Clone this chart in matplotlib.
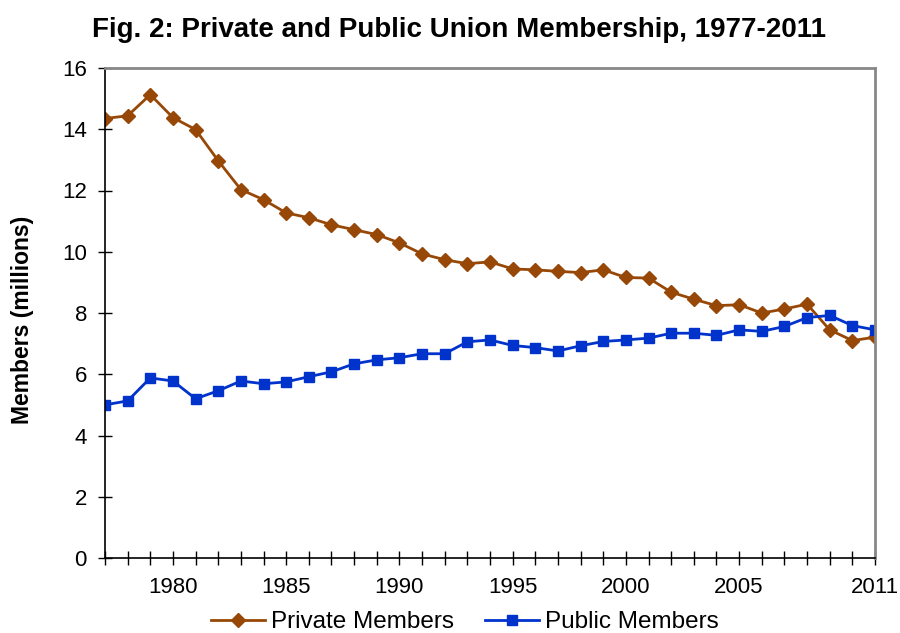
import matplotlib
matplotlib.use('Agg')
import matplotlib.pyplot as plt
import numpy as np

plt.rcParams['font.family'] = ['Liberation Sans', 'DejaVu Sans']

years = list(range(1977, 2012))
private_members = [14.35, 14.44, 15.13, 14.38, 13.99, 12.97, 12.03, 11.70, 11.27, 11.11,
                   10.88, 10.72, 10.56, 10.29, 9.93, 9.74, 9.61, 9.67, 9.44, 9.41,
                   9.36, 9.32, 9.41, 9.16, 9.14, 8.68, 8.45, 8.24, 8.27, 8.00,
                   8.13, 8.29, 7.45, 7.10, 7.21]
public_members = [5.00, 5.13, 5.88, 5.78, 5.20, 5.46, 5.78, 5.69, 5.75, 5.92,
                  6.08, 6.34, 6.47, 6.54, 6.67, 6.67, 7.06, 7.12, 6.94, 6.87,
                  6.76, 6.93, 7.07, 7.12, 7.18, 7.34, 7.34, 7.27, 7.45, 7.40,
                  7.56, 7.85, 7.92, 7.59, 7.45]
year_labels = [1980, 1985, 1990, 1995, 2000, 2005, 2011]

fig = plt.figure(figsize=(9, 6.33), dpi=100)
ax = fig.add_axes([105 / 900, 75 / 633, 770 / 900, 490 / 633])

ax.plot(years, private_members, color='#974706', lw=2, marker='D', ms=7,
        label='Private Members')
ax.plot(years, public_members, color='#0033CC', lw=2, marker='s', ms=7,
        label='Public Members')

ax.set_xlim(1977, 2011)
ax.set_ylim(0, 16)
ax.set_yticks(np.arange(0, 17, 2))
ax.set_xticks(years)
ax.set_xticklabels([str(y) if y in year_labels else '' for y in years])
ax.tick_params(axis='both', direction='inout', length=10, width=1, labelsize=16)
ax.tick_params(axis='x', pad=9)
ax.tick_params(axis='y', pad=8)

ax.spines['left'].set_color('black')
ax.spines['bottom'].set_color('black')
ax.spines['left'].set_linewidth(1.2)
ax.spines['bottom'].set_linewidth(1.2)
ax.spines['top'].set_color('#888888')
ax.spines['right'].set_color('#888888')
ax.spines['top'].set_linewidth(2)
ax.spines['right'].set_linewidth(2)

fig.text(23 / 900, 1 - 320 / 633, 'Members (millions)', rotation=90,
         fontsize=16.5, fontweight='bold', ha='center', va='center')
fig.text(459 / 900, 1 - 37 / 633,
         'Fig. 2: Private and Public Union Membership, 1977-2011',
         fontsize=20, fontweight='bold', ha='center', va='baseline')

fig.legend(loc='center', bbox_to_anchor=(465 / 900, 1 - 622 / 633), ncol=2,
           frameon=False, fontsize=17.5, handlelength=2.2, columnspacing=1.3,
           handletextpad=0.25, borderaxespad=0, borderpad=0)

fig.savefig('out.png', dpi=100)
